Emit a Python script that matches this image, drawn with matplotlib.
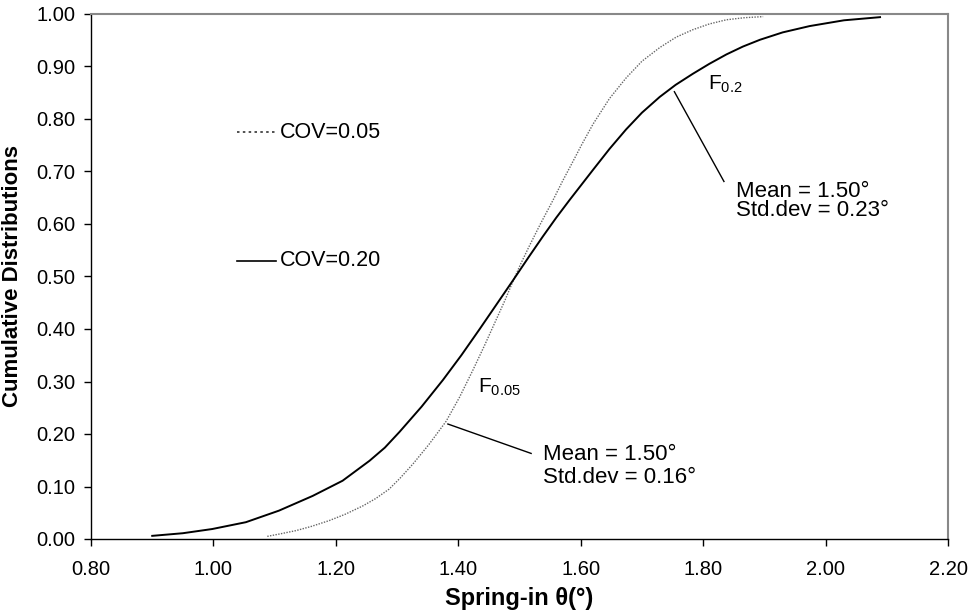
import matplotlib
matplotlib.use("Agg")
import matplotlib.pyplot as plt
from matplotlib.lines import Line2D

plt.rcParams['font.family'] = ['Liberation Sans', 'DejaVu Sans']
plt.rcParams['mathtext.fontset'] = 'custom'
plt.rcParams['mathtext.rm'] = 'Liberation Sans'
plt.rcParams['mathtext.it'] = 'Liberation Sans'

# Data
x_cov020 = [0.900, 0.950, 0.998, 1.053, 1.107, 1.162, 1.211, 1.255, 1.280, 1.304,
            1.340, 1.375, 1.405, 1.435, 1.462, 1.489, 1.515, 1.538, 1.560, 1.582,
            1.600, 1.620, 1.647, 1.674, 1.700, 1.729, 1.755, 1.783, 1.810, 1.838,
            1.865, 1.893, 1.930, 1.974, 2.030, 2.089]
y_cov020 = [0.006, 0.011, 0.019, 0.032, 0.054, 0.082, 0.111, 0.149, 0.174, 0.204,
            0.252, 0.303, 0.350, 0.400, 0.446, 0.492, 0.537, 0.576, 0.612, 0.646,
            0.673, 0.703, 0.743, 0.780, 0.812, 0.842, 0.865, 0.886, 0.905, 0.923,
            0.938, 0.951, 0.965, 0.977, 0.988, 0.994]

x_cov005 = [1.088, 1.110, 1.135, 1.160, 1.189, 1.215, 1.244, 1.265, 1.287, 1.305,
            1.326, 1.352, 1.380, 1.402, 1.424, 1.443, 1.462, 1.476, 1.489, 1.502,
            1.516, 1.535, 1.555, 1.570, 1.585, 1.602, 1.620, 1.647, 1.674, 1.700,
            1.729, 1.756, 1.783, 1.810, 1.838, 1.868, 1.898]
y_cov005 = [0.005, 0.010, 0.016, 0.024, 0.035, 0.047, 0.063, 0.077, 0.095, 0.116,
            0.143, 0.180, 0.224, 0.270, 0.322, 0.369, 0.418, 0.454, 0.490, 0.524,
            0.558, 0.602, 0.646, 0.681, 0.714, 0.752, 0.790, 0.839, 0.878, 0.910,
            0.936, 0.956, 0.970, 0.981, 0.989, 0.993, 0.995]

x_ticks = [0.80, 1.00, 1.20, 1.40, 1.60, 1.80, 2.00, 2.20]
y_ticks = [0.00, 0.10, 0.20, 0.30, 0.40, 0.50, 0.60, 0.70, 0.80, 0.90, 1.00]

fig = plt.figure(figsize=(9.73, 6.14), dpi=100)
ax = fig.add_axes([91/973, 1-539/614, (948-91)/973, (539-14)/614])

ax.plot(x_cov005, y_cov005, color='#666666', lw=1.0, ls=(0, (1, 1)))
ax.plot(x_cov020, y_cov020, color='black', lw=1.4)

ax.set_xlim(0.8, 2.2)
ax.set_ylim(0.0, 1.0)
ax.set_xticks(x_ticks)
ax.set_xticklabels([f"{v:.2f}" for v in x_ticks])
ax.set_yticks(y_ticks)
ax.set_yticklabels([f"{v:.2f}" for v in y_ticks])
ax.tick_params(direction='out', length=5, width=1, labelsize=14.5, color='black')
ax.tick_params(axis='x', pad=10)
ax.tick_params(axis='y', pad=6)

for s in ['top', 'right']:
    ax.spines[s].set_color('#888888')
    ax.spines[s].set_linewidth(1.5)
for s in ['left', 'bottom']:
    ax.spines[s].set_color('black')
    ax.spines[s].set_linewidth(1.0)

ax.set_xlabel('Spring-in θ(°)', fontsize=17, fontweight='bold', labelpad=6)
ax.set_ylabel('Cumulative Distributions', fontsize=16, fontweight='bold', labelpad=10)

# Manual legend entries
ax.add_line(Line2D([1.039, 1.102], [0.775, 0.775], color='#333333', lw=1.2, ls=(0, (1.5, 2))))
ax.text(1.109, 0.775, 'COV=0.05', fontsize=15.5, va='center', ha='left')
ax.add_line(Line2D([1.039, 1.102], [0.530, 0.530], color='black', lw=1.2))
ax.text(1.109, 0.530, 'COV=0.20', fontsize=15.5, va='center', ha='left')

# Annotations
ax.text(1.808, 0.866, r'$\mathrm{F}_{0.2}$', fontsize=15, va='center', ha='left')
ax.add_line(Line2D([1.753, 1.834], [0.852, 0.681], color='black', lw=1.0))
ax.text(1.853, 0.662, 'Mean = 1.50°', fontsize=16, va='center', ha='left')
ax.text(1.853, 0.625, 'Std.dev = 0.23°', fontsize=16, va='center', ha='left')

ax.text(1.432, 0.288, r'$\mathrm{F}_{0.05}$', fontsize=15, va='center', ha='left')
ax.add_line(Line2D([1.383, 1.519], [0.219, 0.163], color='black', lw=1.0))
ax.text(1.538, 0.160, 'Mean = 1.50°', fontsize=16, va='center', ha='left')
ax.text(1.538, 0.117, 'Std.dev = 0.16°', fontsize=16, va='center', ha='left')

fig.savefig('out.png', dpi=100)
